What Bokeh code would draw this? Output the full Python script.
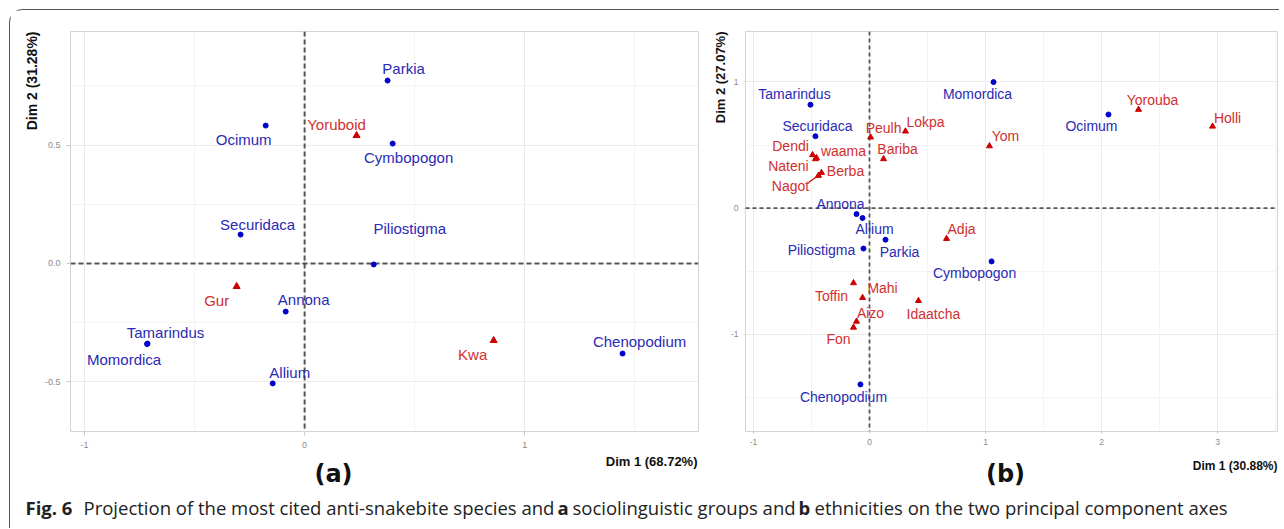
import math
from bokeh.plotting import figure
from bokeh.models import Range1d, FixedTicker, PrintfTickFormatter, Span, Label, Title
from bokeh.layouts import row, column
from bokeh.embed import file_html
from bokeh.resources import INLINE
from bokeh.core.properties import value

# ---------------- data: panel (a) sociolinguistic groups ----------------
a_species = ["Parkia", "Cymbopogon", "Ocimum", "Securidaca", "Piliostigma",
             "Annona", "Allium", "Tamarindus", "Momordica", "Chenopodium"]
a_species_dim1 = [0.377, 0.400, -0.177, -0.291, 0.314, -0.086, -0.145, -0.714, -0.716, 1.445]
a_species_dim2 = [0.772, 0.506, 0.582, 0.122, -0.004, -0.203, -0.506, -0.338, -0.340, -0.380]
a_groups = ["Yoruboid", "Gur", "Kwa"]
a_groups_dim1 = [0.236, -0.309, 0.859]
a_groups_dim2 = [0.540, -0.097, -0.325]

# ---------------- data: panel (b) ethnicities ----------------
b_species = ["Tamarindus", "Securidaca", "Momordica", "Ocimum", "Annona", "Allium",
             "Parkia", "Piliostigma", "Cymbopogon", "Chenopodium"]
b_species_dim1 = [-0.509, -0.466, 1.069, 2.060, -0.112, -0.060, 0.138, -0.052, 1.052, -0.078]
b_species_dim2 = [0.820, 0.570, 0.999, 0.742, -0.047, -0.078, -0.250, -0.320, -0.422, -1.397]
b_groups = ["Yorouba", "Holli", "Yom", "Lokpa", "Peulh", "Bariba", "Dendi", "waama", "Nateni",
            "Berba", "Nagot", "Adja", "Mahi", "Toffin", "Idaatcha", "Aizo", "Fon"]
b_groups_dim1 = [2.319, 2.957, 1.034, 0.310, 0.009, 0.121, -0.491, -0.457, -0.466,
                 -0.414, -0.440, 0.664, -0.060, -0.138, 0.422, -0.112, -0.138]
b_groups_dim2 = [0.781, 0.648, 0.492, 0.609, 0.562, 0.390, 0.422, 0.398, 0.390,
                 0.281, 0.258, -0.242, -0.710, -0.593, -0.734, -0.898, -0.945]

# ---------------- texts ----------------
a_xlab, a_ylab, a_tag = "Dim 1 (68.72%)", "Dim 2 (31.28%)", "(a)"
b_xlab, b_ylab, b_tag = "Dim 1 (30.88%)", "Dim 2 (27.07%)", "(b)"
caption_parts = [
    ("Fig. 6", "bold"),
    ("Projection of the most cited anti-snakebite species and", "normal"),
    ("a", "bold"),
    ("sociolinguistic groups and", "normal"),
    ("b", "bold"),
    ("ethnicities on the two principal component axes", "normal"),
]

# ---------------- label placement (repel offsets, screen px: dx right, dy down) ----------------
a_offsets = {
    "Parkia": (16, -12), "Cymbopogon": (16, 14), "Ocimum": (-22, 14), "Securidaca": (17, -10),
    "Piliostigma": (36, -36), "Annona": (18, -12), "Allium": (17, -11), "Tamarindus": (18, -11),
    "Momordica": (-23, 15), "Chenopodium": (17, -12),
    "Yoruboid": (-20, -11), "Gur": (-20, 14), "Kwa": (-21, 14),
}
b_offsets = {
    "Tamarindus": (-16, -11), "Securidaca": (2, -10), "Momordica": (-16, 12), "Ocimum": (-17, 12),
    "Annona": (-16, -10), "Allium": (12, 11), "Parkia": (14, 12), "Piliostigma": (-42, 1),
    "Cymbopogon": (-17, 12), "Chenopodium": (-17, 13),
    "Yorouba": (14, -10), "Holli": (15, -9), "Yom": (16, -10), "Lokpa": (20, -9), "Peulh": (13, -9),
    "Bariba": (14, -10), "Dendi": (-22, -9), "waama": (27, -7), "Nateni": (-27, 7), "Berba": (24, -2),
    "Nagot": (-28, 11), "Adja": (15, -10), "Mahi": (20, -10), "Toffin": (-22, 13), "Idaatcha": (15, 13),
    "Aizo": (14, -9), "Fon": (-15, 12),
}
b_segments = {"Nagot": (-10, 7)}

BLUE_PT = "#0000cc"
BLUE_TX = "#2a2ab4"
RED_PT = "#cc0000"
RED_TX = "#d03030"
FONT = "Liberation Sans"


def make_panel(cfg):
    x0, x1 = cfg["xr"]
    y0, y1 = cfg["yr"]
    fw, fh = cfg["frame"]
    bl, bt = cfg["bl"], cfg["bt"]
    W, H = cfg["size"]
    sx = fw / (x1 - x0)
    sy = fh / (y1 - y0)
    p = figure(width=W, height=H, x_range=Range1d(x0, x1), y_range=Range1d(y0, y1),
               toolbar_location=None, output_backend="svg",
               min_border_left=bl, min_border_top=bt,
               min_border_right=W - bl - fw, min_border_bottom=H - bt - fh)
    p.background_fill_color = "white"
    p.border_fill_color = "white"
    p.outline_line_color = "#d4d4d4"
    p.outline_line_width = 1

    p.xaxis.ticker = FixedTicker(ticks=cfg["xt"], minor_ticks=cfg["xm"])
    p.yaxis.ticker = FixedTicker(ticks=cfg["yt"], minor_ticks=cfg["ym"])
    p.xaxis.formatter = PrintfTickFormatter(format="%d")
    p.yaxis.formatter = PrintfTickFormatter(format=cfg["yfmt"])
    for ax in (p.xaxis, p.yaxis):
        ax.axis_line_color = None
        ax.major_tick_line_color = "#cccccc"
        ax.major_tick_out = cfg["tick_out"]
        ax.major_tick_in = 0
        ax.minor_tick_line_color = None
        ax.major_label_text_color = "#8a8a8a"
        ax.major_label_text_font = FONT
        ax.major_label_text_font_size = cfg["tick_fs"]
        ax.major_label_standoff = cfg["standoff"]
    p.grid.grid_line_color = "#ebebeb"
    p.grid.minor_grid_line_color = "#f4f4f4"

    for dim in ("width", "height"):
        p.add_layout(Span(location=0, dimension=dim, line_color="#555555",
                          line_dash=cfg["dash"], line_width=cfg["dash_w"], level="underlay"))

    p.scatter(cfg["sp_x"], cfg["sp_y"], marker="circle", size=cfg["dot"],
              fill_color=BLUE_PT, line_color=BLUE_PT)
    p.scatter(cfg["gr_x"], cfg["gr_y"], marker="triangle", size=cfg["tri"],
              fill_color=RED_PT, line_color=RED_PT)

    offs = cfg["offsets"]

    def lab(names, xs, ys):
        lx = [x + offs[n][0] / sx for n, x in zip(names, xs)]
        ly = [y - offs[n][1] / sy for n, y in zip(names, ys)]
        return lx, ly

    for seg_name, (dx, dy) in cfg.get("segments", {}).items():
        i = cfg["gr_names"].index(seg_name)
        px, py = cfg["gr_x"][i], cfg["gr_y"][i]
        p.segment(x0=[px], y0=[py], x1=[px + dx / sx], y1=[py - dy / sy],
                  line_color=RED_PT, line_width=1.2)

    lx, ly = lab(cfg["sp_names"], cfg["sp_x"], cfg["sp_y"])
    p.text(lx, ly, text=cfg["sp_names"], text_align="center", text_baseline="middle",
           text_font=value(FONT), text_font_size=cfg["lab_fs"], text_color=BLUE_TX)
    lx, ly = lab(cfg["gr_names"], cfg["gr_x"], cfg["gr_y"])
    p.text(lx, ly, text=cfg["gr_names"], text_align="center", text_baseline="middle",
           text_font=value(FONT), text_font_size=cfg["lab_fs"], text_color=RED_TX)

    # y axis title, ggplot-style at the top end of the axis
    p.add_layout(Title(text=cfg["ylab"], align="right", text_font=FONT, text_font_style="bold",
                       text_font_size=cfg["ylab_fs"], text_color="#111111",
                       standoff=cfg["ylab_standoff"]), "left")
    return p


# content origin is at page (10, 10)
pa = make_panel(dict(
    xr=(-1.064, 1.79), yr=(-0.709, 0.979), frame=(628, 400), bl=60, bt=21, size=(692, 443),
    xt=[-1, 0, 1], xm=[-0.5, 0.5, 1.5], yt=[-0.5, 0, 0.5], ym=[-0.25, 0.25, 0.75], yfmt="%.1f",
    tick_out=4, standoff=6, tick_fs="9px", dash="5 3", dash_w=2,
    sp_names=a_species, sp_x=a_species_dim1, sp_y=a_species_dim2,
    gr_names=a_groups, gr_x=a_groups_dim1, gr_y=a_groups_dim2,
    dot=5, tri=7, offsets=a_offsets, lab_fs="15px",
    ylab=a_ylab, ylab_fs="14px", ylab_standoff=3,
))

pb = make_panel(dict(
    xr=(-1.069, 3.517), yr=(-1.77, 1.40), frame=(532, 406), bl=43, bt=18, size=(577, 443),
    xt=[-1, 0, 1, 2, 3], xm=[-0.5, 0.5, 1.5, 2.5, 3.5], yt=[-1, 0, 1], ym=[-1.5, -0.5, 0.5, 1.5],
    yfmt="%d", tick_out=2, standoff=3, tick_fs="8.5px", dash="4 3", dash_w=1.8,
    sp_names=b_species, sp_x=b_species_dim1, sp_y=b_species_dim2,
    gr_names=b_groups, gr_x=b_groups_dim1, gr_y=b_groups_dim2,
    dot=5, tri=6, offsets=b_offsets, segments=b_segments, lab_fs="14px",
    ylab=b_ylab, ylab_fs="13px", ylab_standoff=0,
))

# ---------------- bottom strip: x-axis titles, panel tags, caption ----------------
CW, CH = 1269, 75          # page x = 10 + x ; page y = 528 - y
cap = figure(width=CW, height=CH, x_range=Range1d(0, CW), y_range=Range1d(0, CH),
             x_axis_type=None, y_axis_type=None, toolbar_location=None, output_backend="svg",
             min_border=0, min_border_left=0, min_border_right=0, min_border_top=0, min_border_bottom=0)
cap.outline_line_color = None
cap.grid.visible = False
cap.border_fill_color = "white"
cap.background_fill_color = "white"


def put(txt, xpage, ypage, align="left", font="Open Sans", style="normal", size="18px", color="#222222"):
    cap.add_layout(Label(x=xpage - 10, y=528 - ypage, text=txt, text_align=align,
                         text_baseline="middle", text_font=font, text_font_style=style,
                         text_font_size=size, text_color=color))


put(a_xlab, 697, 461, align="right", font=FONT, style="bold", size="13px", color="#111111")
put(b_xlab, 1277, 465, align="right", font=FONT, style="bold", size="12px", color="#111111")
put(a_tag, 333, 473, align="center", font="DejaVu Sans", style="bold", size="24px", color="#111111")
put(b_tag, 1005, 473, align="center", font="DejaVu Sans", style="bold", size="24px", color="#111111")

caption_x = [25, 83, 557, 572, 798, 814]
for (txt, style), xp in zip(caption_parts, caption_x):
    put(txt, xp, 507, style=style, size="18.5px")

layout = column(row(pa, pb), cap,
                styles={"margin-left": "9px", "margin-top": "9px",
                        "border-top": "1px solid #555555", "border-left": "1px solid #555555",
                        "border-top-left-radius": "14px"})

open("out.html", "w").write(file_html(layout, INLINE))
